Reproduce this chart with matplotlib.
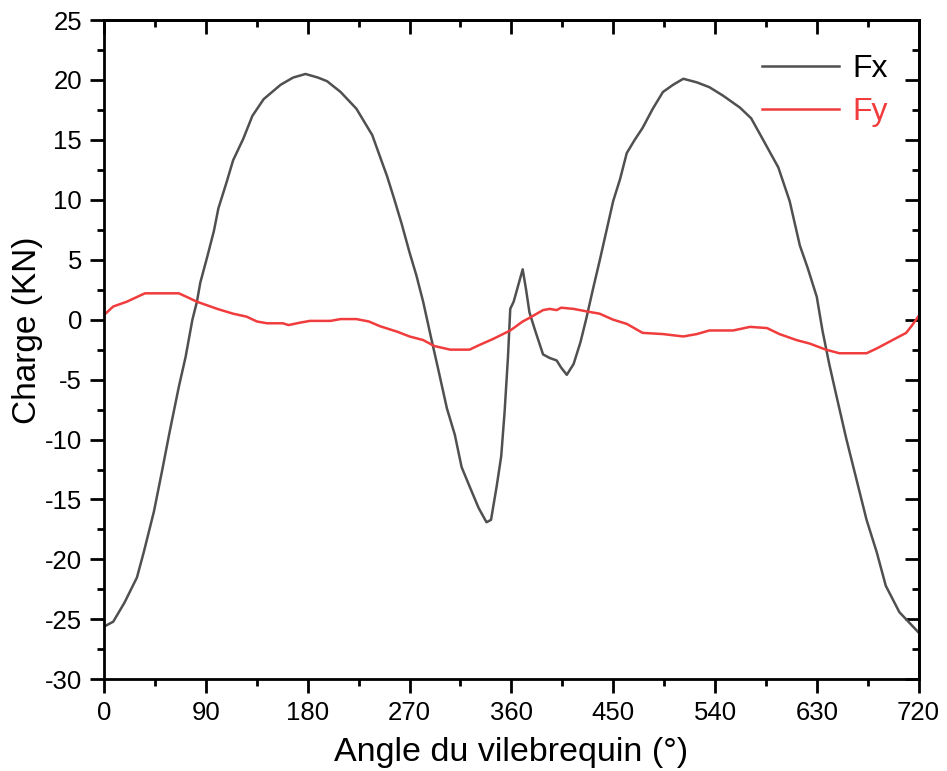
import matplotlib
matplotlib.use('Agg')
import matplotlib.pyplot as plt
from matplotlib.ticker import MultipleLocator

plt.rcParams['font.family'] = ['Liberation Sans', 'DejaVu Sans']
plt.rcParams['axes.unicode_minus'] = False

#Crank angle (deg) and loads (KN)
deg_fx = [0, 8, 18, 29, 35, 44, 51, 58, 66, 72,
          78, 82, 85, 91, 97, 101, 108, 114, 123, 131,
          141, 156, 167, 178, 189, 197, 209, 223, 237, 245,
          250, 256, 263, 270, 276, 282, 289, 295, 303, 310,
          316, 323, 331, 338, 342, 347, 351, 354, 357, 359,
          362, 370, 373, 376, 381, 388, 394, 400, 404, 409,
          415, 421, 426, 432, 438, 444, 450, 456, 462, 469,
          476, 485, 494, 503, 512, 524, 535, 547, 562, 572,
          582, 596, 606, 615, 622, 630, 635, 641, 647, 656,
          665, 674, 683, 691, 703, 712, 720]
fx = [-25.6, -25.2, -23.6, -21.5, -19.4, -16.0, -12.7, -9.3, -5.6, -3.1,
      0.0, 1.5, 3.1, 5.2, 7.4, 9.3, 11.4, 13.3, 15.1, 17.0,
      18.4, 19.6, 20.2, 20.5, 20.2, 19.9, 19.0, 17.6, 15.4, 13.3,
      12.0, 10.2, 8.0, 5.6, 3.7, 1.5, -1.5, -4.0, -7.4, -9.6,
      -12.3, -13.9, -15.7, -16.9, -16.7, -13.9, -11.4, -7.7, -3.1, 0.9,
      1.5, 4.2, 2.5, 0.6, -0.9, -2.9, -3.2, -3.4, -4.0, -4.6,
      -3.7, -1.9, 0.0, 2.5, 4.9, 7.4, 9.9, 11.7, 13.9, 15.0,
      16.0, 17.6, 19.0, 19.6, 20.1, 19.8, 19.4, 18.7, 17.7, 16.8,
      15.1, 12.7, 9.9, 6.2, 4.3, 1.9, -0.9, -3.7, -6.2, -9.9,
      -13.3, -16.7, -19.4, -22.2, -24.4, -25.3, -26.1]

deg_fy = [0, 8, 20, 36, 50, 66, 73, 82, 91, 100,
          114, 126, 135, 144, 158, 163, 173, 182, 200, 209,
          223, 234, 244, 259, 270, 282, 292, 306, 323, 332,
          344, 359, 370, 376, 388, 394, 400, 404, 415, 426,
          438, 450, 462, 476, 494, 512, 524, 535, 556, 571,
          586, 597, 612, 624, 638, 650, 674, 683, 697, 709,
          714, 720]
fy = [0.4, 1.1, 1.5, 2.2, 2.2, 2.2, 1.9, 1.5, 1.2, 0.9,
      0.5, 0.25, -0.15, -0.3, -0.3, -0.45, -0.25, -0.1, -0.1, 0.05,
      0.05, -0.15, -0.55, -1.0, -1.4, -1.7, -2.2, -2.5, -2.5, -2.1,
      -1.6, -0.9, -0.15, 0.15, 0.8, 0.9, 0.8, 1.0, 0.9, 0.7,
      0.5, 0.0, -0.35, -1.1, -1.2, -1.4, -1.2, -0.9, -0.9, -0.6,
      -0.7, -1.2, -1.7, -2.0, -2.5, -2.8, -2.8, -2.4, -1.7, -1.1,
      -0.5, 0.3]

x_ticks = [0, 90, 180, 270, 360, 450, 540, 630, 720]

fig = plt.figure(figsize=(9.47, 7.71), dpi=100, facecolor='w')
ax = fig.add_axes([0.110, 0.119, 0.860, 0.855])

ax.plot(deg_fx, fx, color='#505050', lw=1.8, label='Fx')
ax.plot(deg_fy, fy, color='#f03c3c', lw=1.8, label='Fy')

ax.set_xlim(0, 720)
ax.set_ylim(-30, 25)
ax.set_xticks(x_ticks)
ax.xaxis.set_minor_locator(MultipleLocator(45))
ax.yaxis.set_major_locator(MultipleLocator(5))
ax.yaxis.set_minor_locator(MultipleLocator(2.5))

for sp in ax.spines.values():
    sp.set_linewidth(2)

ax.tick_params(which='major', direction='out', length=10, width=2, labelsize=18.5, pad=6)
ax.tick_params(which='minor', direction='out', length=5, width=2)

#inward ticks on top and right, no labels
top = ax.secondary_xaxis('top')
top.set_xticks(x_ticks)
top.xaxis.set_minor_locator(MultipleLocator(45))
top.tick_params(which='major', direction='in', length=10, width=2, labeltop=False)
top.tick_params(which='minor', direction='in', length=5, width=2)
right = ax.secondary_yaxis('right')
right.yaxis.set_major_locator(MultipleLocator(5))
right.yaxis.set_minor_locator(MultipleLocator(2.5))
right.tick_params(which='major', direction='in', length=10, width=2, labelright=False)
right.tick_params(which='minor', direction='in', length=5, width=2)
top.spines['top'].set_linewidth(2)
right.spines['right'].set_linewidth(2)

ax.set_xlabel('Angle du vilebrequin (°)', fontsize=24.5, labelpad=8)
ax.set_ylabel('Charge (KN)', fontsize=24)
ax.yaxis.set_label_coords(-0.075, 0.53)

leg = ax.legend(loc='upper right', bbox_to_anchor=(0.997, 0.992), frameon=False,
                fontsize=23, handlelength=2.4, handletextpad=0.4, labelspacing=0.4)
leg.get_texts()[0].set_color('black')
leg.get_texts()[1].set_color('#f03c3c')

fig.savefig('out.png', dpi=100)
